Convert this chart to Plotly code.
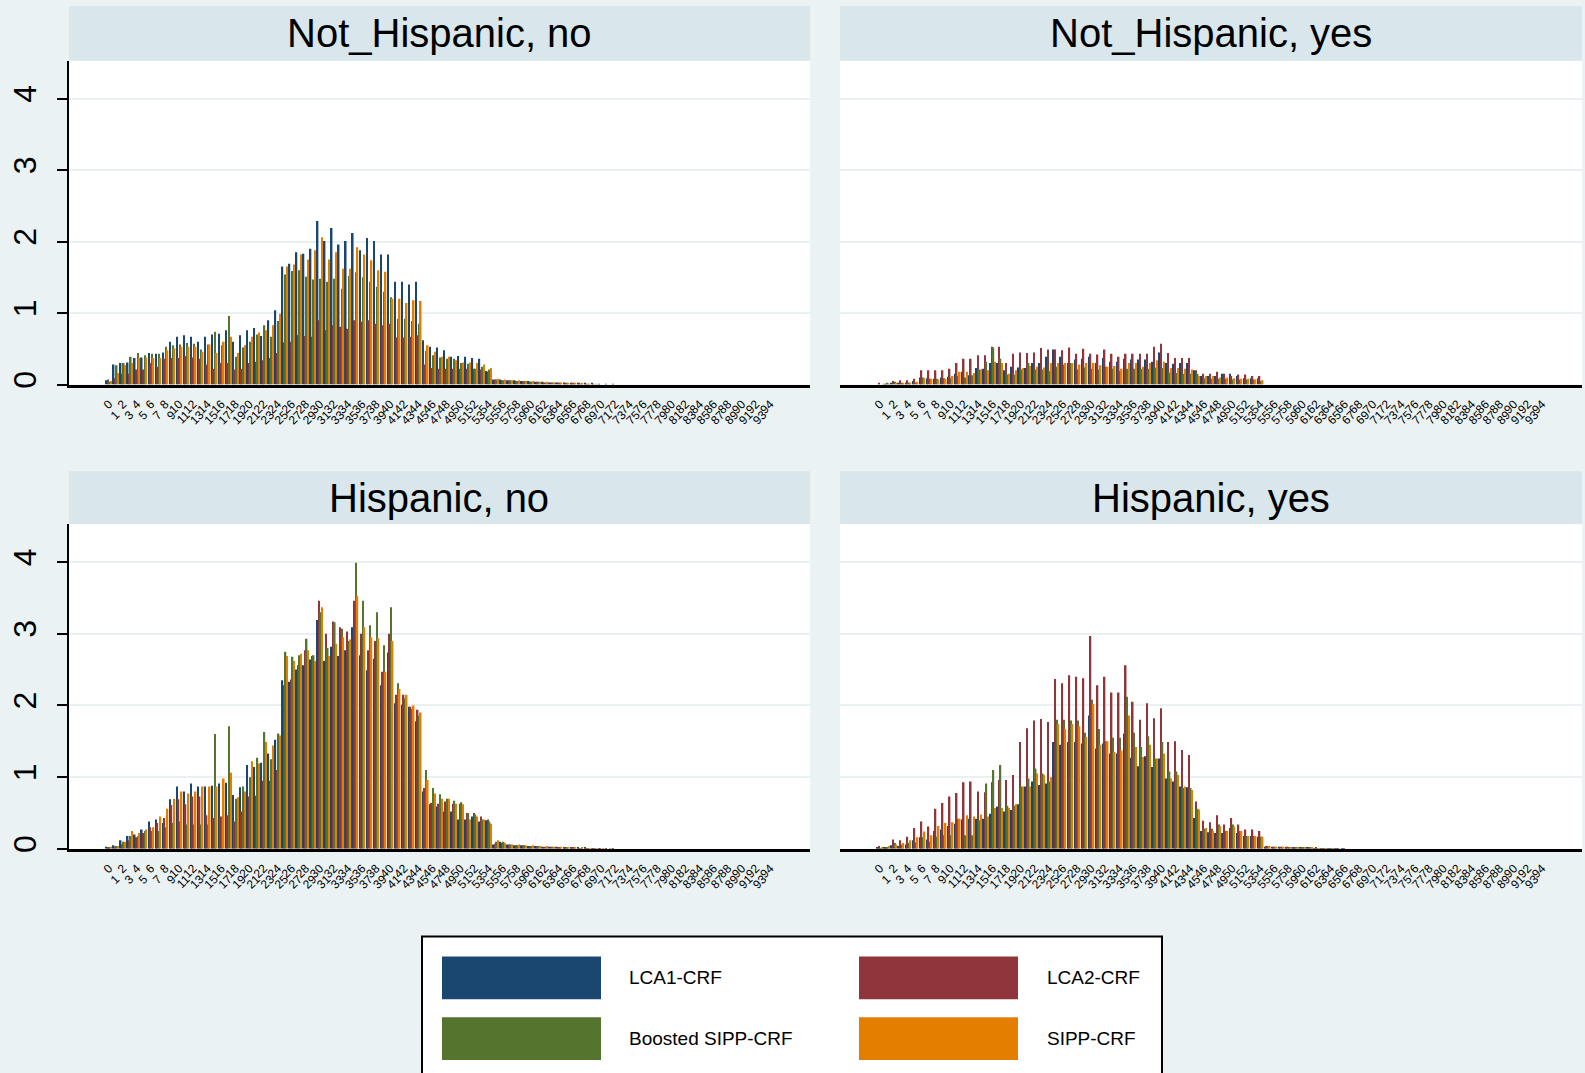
import plotly.graph_objects as go

# ---------------- data ----------------
AGES = list(range(95))
SERIES = ["LCA1-CRF", "LCA2-CRF", "Boosted SIPP-CRF", "SIPP-CRF"]
COLORS = ["#1a476f", "#90353b", "#55752f", "#e37e00"]
PANELS = ["Not_Hispanic, no", "Not_Hispanic, yes", "Hispanic, no", "Hispanic, yes"]
Y_TICKS = [0, 1, 2, 3, 4]

# Not_Hispanic, no
nh_no_lca1 = [0.06, 0.28, 0.30, 0.31, 0.37, 0.38, 0.44, 0.43, 0.45, 0.60, 0.67, 0.69, 0.67, 0.60, 0.67, 0.70,
              0.71, 0.76, 0.60, 0.69, 0.76, 0.79, 0.68, 0.90, 1.04, 1.65, 1.69, 1.85, 1.83, 1.90, 2.29, 2.01,
              2.19, 1.96, 2.01, 2.12, 1.88, 2.05, 2.01, 1.82, 1.82, 1.44, 1.44, 1.40, 1.44, 0.62, 0.53, 0.52,
              0.48, 0.39, 0.40, 0.39, 0.37, 0.36, 0.19, 0.07, 0.07, 0.06, 0.06, 0.05, 0.05, 0.04, 0.04, 0.03,
              0.03, 0.03, 0.02, 0.02, 0.02, 0.02, 0.01, 0.01, 0.01]
nh_no_lca2 = [0.07, 0.09, 0.15, 0.15, 0.21, 0.21, 0.30, 0.25, 0.36, 0.37, 0.37, 0.40, 0.38, 0.36, 0.28, 0.22,
              0.30, 0.30, 0.21, 0.22, 0.30, 0.32, 0.34, 0.37, 0.44, 0.59, 0.60, 0.69, 0.68, 0.67, 0.90, 0.76,
              0.83, 0.81, 0.78, 0.90, 0.88, 0.90, 0.85, 0.83, 0.85, 0.66, 0.66, 0.67, 0.69, 0.28, 0.23, 0.22,
              0.22, 0.22, 0.22, 0.22, 0.22, 0.21, 0.18, 0.07, 0.06, 0.06, 0.05, 0.05, 0.04, 0.04, 0.03, 0.03,
              0.03, 0.02, 0.02, 0.02, 0.01, 0.01]
nh_no_boost = [0.04, 0.27, 0.30, 0.39, 0.44, 0.41, 0.43, 0.43, 0.53, 0.55, 0.56, 0.58, 0.57, 0.49, 0.56, 0.74,
               0.55, 0.96, 0.39, 0.52, 0.60, 0.70, 0.83, 0.67, 0.89, 1.54, 1.59, 1.60, 1.51, 1.47, 1.48, 1.44,
               1.48, 1.34, 1.52, 1.57, 1.50, 1.44, 1.37, 1.30, 1.22, 0.92, 0.92, 0.89, 0.85, 0.47, 0.41, 0.38,
               0.36, 0.36, 0.30, 0.29, 0.22, 0.25, 0.21, 0.07, 0.06, 0.06, 0.05, 0.05, 0.04, 0.04, 0.03, 0.03,
               0.02, 0.02, 0.02, 0.01, 0.01]
nh_no_sipp = [0.05, 0.16, 0.27, 0.30, 0.37, 0.38, 0.37, 0.37, 0.48, 0.51, 0.53, 0.53, 0.53, 0.46, 0.56, 0.44,
              0.60, 0.67, 0.44, 0.55, 0.67, 0.73, 0.76, 0.83, 0.99, 1.65, 1.68, 1.82, 1.75, 1.88, 2.06, 1.75,
              1.85, 1.62, 1.62, 1.92, 1.82, 1.74, 1.60, 1.58, 1.20, 1.20, 1.14, 1.18, 1.17, 0.55, 0.46, 0.39,
              0.39, 0.34, 0.31, 0.31, 0.30, 0.28, 0.23, 0.08, 0.07, 0.06, 0.06, 0.05, 0.05, 0.04, 0.04, 0.03,
              0.03, 0.02, 0.02, 0.02, 0.01, 0.01]

# Not_Hispanic, yes
nh_yes_lca1 = [0.00, 0.01, 0.02, 0.02, 0.02, 0.05, 0.10, 0.09, 0.08, 0.10, 0.11, 0.15, 0.18, 0.13, 0.23, 0.22,
               0.30, 0.30, 0.20, 0.25, 0.24, 0.23, 0.30, 0.30, 0.39, 0.49, 0.39, 0.30, 0.35, 0.36, 0.39, 0.30,
               0.37, 0.32, 0.32, 0.36, 0.35, 0.35, 0.35, 0.32, 0.45, 0.30, 0.29, 0.30, 0.30, 0.20, 0.12, 0.12,
               0.12, 0.15, 0.15, 0.12, 0.09, 0.09, 0.09]
nh_yes_lca2 = [0.02, 0.01, 0.05, 0.06, 0.06, 0.08, 0.20, 0.20, 0.20, 0.20, 0.22, 0.30, 0.36, 0.36, 0.41, 0.41,
               0.53, 0.53, 0.30, 0.43, 0.45, 0.44, 0.45, 0.51, 0.49, 0.49, 0.48, 0.52, 0.43, 0.50, 0.43, 0.42,
               0.49, 0.43, 0.39, 0.43, 0.43, 0.43, 0.43, 0.53, 0.57, 0.44, 0.37, 0.37, 0.37, 0.20, 0.15, 0.15,
               0.18, 0.15, 0.12, 0.14, 0.14, 0.12, 0.12]
nh_yes_boost = [0.00, 0.02, 0.04, 0.02, 0.02, 0.03, 0.10, 0.08, 0.08, 0.09, 0.09, 0.12, 0.10, 0.13, 0.21, 0.32,
                0.52, 0.36, 0.14, 0.14, 0.21, 0.30, 0.21, 0.21, 0.19, 0.25, 0.28, 0.30, 0.21, 0.24, 0.22, 0.21,
                0.25, 0.22, 0.19, 0.22, 0.22, 0.22, 0.22, 0.24, 0.23, 0.17, 0.16, 0.15, 0.15, 0.15, 0.09, 0.08,
                0.08, 0.08, 0.07, 0.07, 0.07, 0.07, 0.05]
nh_yes_sipp = [0.00, 0.01, 0.02, 0.02, 0.03, 0.04, 0.09, 0.08, 0.07, 0.08, 0.12, 0.18, 0.18, 0.16, 0.21, 0.20,
               0.32, 0.30, 0.15, 0.20, 0.23, 0.26, 0.25, 0.24, 0.30, 0.30, 0.30, 0.30, 0.28, 0.30, 0.30, 0.27,
               0.25, 0.26, 0.22, 0.30, 0.30, 0.25, 0.30, 0.34, 0.32, 0.23, 0.23, 0.22, 0.21, 0.12, 0.12, 0.12,
               0.10, 0.10, 0.09, 0.08, 0.08, 0.07, 0.06]

# Hispanic, no
h_no_lca1 = [0.03, 0.05, 0.12, 0.18, 0.20, 0.27, 0.38, 0.41, 0.36, 0.69, 0.87, 0.80, 0.91, 0.87, 0.87, 0.88,
             0.91, 0.92, 0.75, 0.86, 1.17, 1.14, 1.20, 1.33, 1.52, 2.35, 2.33, 2.50, 2.56, 2.64, 3.19, 2.62,
             2.82, 2.69, 2.77, 3.09, 2.70, 2.49, 2.65, 2.28, 2.74, 2.03, 2.01, 1.98, 1.78, 0.80, 0.62, 0.59,
             0.52, 0.52, 0.41, 0.41, 0.45, 0.38, 0.40, 0.06, 0.10, 0.06, 0.05, 0.05, 0.04, 0.04, 0.03, 0.03,
             0.03, 0.02, 0.02, 0.02, 0.02, 0.01, 0.01, 0.01, 0.01]
h_no_lca2 = [0.02, 0.03, 0.06, 0.12, 0.16, 0.22, 0.30, 0.36, 0.43, 0.61, 0.69, 0.62, 0.73, 0.73, 0.47, 0.43,
             0.45, 0.47, 0.38, 0.52, 0.73, 0.74, 0.95, 0.95, 1.10, 2.28, 2.36, 2.56, 2.77, 2.69, 3.46, 3.00,
             3.17, 3.09, 3.03, 3.46, 3.00, 2.77, 2.90, 2.47, 3.00, 2.15, 2.15, 1.98, 1.94, 0.85, 0.64, 0.63,
             0.66, 0.63, 0.63, 0.50, 0.50, 0.45, 0.41, 0.07, 0.08, 0.06, 0.05, 0.05, 0.04, 0.04, 0.03, 0.03,
             0.02, 0.02, 0.02, 0.01, 0.01, 0.01, 0.01]
h_no_boost = [0.02, 0.04, 0.10, 0.18, 0.18, 0.25, 0.25, 0.25, 0.30, 0.36, 0.38, 0.34, 0.34, 0.34, 0.34, 1.60,
              0.45, 1.71, 0.70, 0.87, 1.00, 1.27, 1.63, 1.25, 1.61, 2.75, 2.68, 2.70, 2.93, 2.70, 3.30, 2.80,
              3.16, 3.07, 2.90, 3.99, 3.46, 3.12, 3.30, 2.84, 3.37, 2.31, 2.10, 1.95, 1.86, 1.10, 0.85, 0.76,
              0.70, 0.67, 0.65, 0.50, 0.48, 0.41, 0.38, 0.10, 0.10, 0.06, 0.05, 0.05, 0.04, 0.04, 0.03, 0.03,
              0.02, 0.02, 0.02, 0.01, 0.01, 0.01]
h_no_sipp = [0.03, 0.04, 0.10, 0.25, 0.22, 0.27, 0.30, 0.45, 0.56, 0.70, 0.80, 0.77, 0.80, 0.87, 0.87, 0.87,
             0.98, 1.06, 0.72, 0.80, 1.22, 1.19, 1.49, 1.44, 1.58, 2.69, 2.62, 2.72, 2.77, 2.62, 3.37, 2.69,
             2.86, 2.95, 2.92, 3.53, 3.09, 2.95, 2.94, 2.47, 2.90, 2.23, 2.15, 2.00, 1.90, 0.96, 0.77, 0.70,
             0.70, 0.63, 0.62, 0.41, 0.45, 0.41, 0.35, 0.12, 0.08, 0.06, 0.06, 0.05, 0.05, 0.04, 0.04, 0.03,
             0.03, 0.02, 0.02, 0.02, 0.01, 0.01, 0.01, 0.01]

# Hispanic, yes
h_yes_lca1 = [0.02, 0.02, 0.05, 0.04, 0.06, 0.12, 0.16, 0.13, 0.25, 0.27, 0.32, 0.35, 0.41, 0.42, 0.42, 0.42,
              0.49, 0.59, 0.52, 0.54, 0.62, 0.87, 0.94, 0.89, 0.91, 1.49, 1.45, 1.49, 1.49, 1.47, 1.86, 1.40,
              1.47, 1.33, 1.33, 1.61, 1.27, 1.15, 1.29, 1.14, 1.26, 0.98, 0.94, 0.87, 0.86, 0.43, 0.25, 0.23,
              0.22, 0.22, 0.29, 0.22, 0.18, 0.18, 0.17, 0.03, 0.03, 0.03, 0.02, 0.02, 0.02, 0.02, 0.01, 0.01,
              0.01, 0.01, 0.01]
h_yes_lca2 = [0.04, 0.02, 0.13, 0.12, 0.17, 0.29, 0.38, 0.31, 0.56, 0.64, 0.73, 0.78, 0.93, 0.94, 0.80, 0.79,
              0.93, 0.96, 0.96, 1.03, 1.49, 1.68, 1.79, 1.81, 1.77, 2.37, 2.31, 2.42, 2.40, 2.38, 2.97, 2.28,
              2.40, 2.18, 2.18, 2.56, 2.05, 1.80, 2.03, 1.82, 1.96, 1.49, 1.50, 1.38, 1.31, 0.66, 0.39, 0.37,
              0.47, 0.34, 0.43, 0.34, 0.27, 0.27, 0.25, 0.04, 0.03, 0.03, 0.03, 0.02, 0.02, 0.02, 0.02, 0.01,
              0.01, 0.01, 0.01]
h_yes_boost = [0.01, 0.02, 0.08, 0.06, 0.08, 0.09, 0.16, 0.10, 0.17, 0.19, 0.19, 0.42, 0.19, 0.19, 0.40, 0.91,
               1.10, 1.17, 0.60, 0.60, 0.87, 0.98, 1.12, 1.05, 0.94, 1.80, 1.80, 1.79, 1.79, 1.62, 2.08, 1.67,
               1.50, 1.55, 1.55, 2.12, 1.62, 1.42, 1.57, 1.26, 1.49, 1.08, 1.08, 0.85, 0.85, 0.56, 0.28, 0.28,
               0.34, 0.25, 0.34, 0.25, 0.18, 0.18, 0.17, 0.04, 0.03, 0.03, 0.02, 0.02, 0.02, 0.02, 0.01, 0.01,
               0.01, 0.01]
h_yes_sipp = [0.02, 0.04, 0.06, 0.08, 0.12, 0.16, 0.24, 0.19, 0.32, 0.36, 0.37, 0.42, 0.47, 0.45, 0.48, 0.45,
              0.57, 0.57, 0.57, 0.62, 0.87, 0.87, 1.05, 1.03, 1.00, 1.74, 1.67, 1.74, 1.71, 1.56, 2.02, 1.45,
              1.50, 1.35, 1.37, 1.86, 1.42, 1.28, 1.45, 1.26, 1.33, 0.98, 1.03, 0.87, 0.82, 0.55, 0.29, 0.25,
              0.32, 0.25, 0.31, 0.25, 0.18, 0.18, 0.17, 0.04, 0.03, 0.03, 0.02, 0.02, 0.02, 0.02, 0.01, 0.01,
              0.01]

PANEL_DATA = [
    [nh_no_lca1, nh_no_lca2, nh_no_boost, nh_no_sipp],
    [nh_yes_lca1, nh_yes_lca2, nh_yes_boost, nh_yes_sipp],
    [h_no_lca1, h_no_lca2, h_no_boost, h_no_sipp],
    [h_yes_lca1, h_yes_lca2, h_yes_boost, h_yes_sipp],
]

# ---------------- style / layout ----------------
W, H = 1585, 1073
BG = "#EAF2F3"
HEADER = "#D9E6EB"
GRID = "#E8F0F2"
FONT = "Liberation Sans"
XR = [-5.67, 99.67]
YR = [0, 4.53]

COLS_X = [(69, 810), (840, 1582)]
ROWS_Y = [(61, 386), (526, 852)]
HEAD_Y = [(6, 61), (473, 526)]


def px(x):
    return x / W


def py(y):
    return 1 - y / H


def ax_id(letter, n):
    return letter if n == 1 else f"{letter}{n}"


fig = go.Figure()

for p, series_list in enumerate(PANEL_DATA):
    for s, vals in enumerate(series_list):
        fig.add_trace(go.Bar(
            x=AGES[:len(vals)], y=vals, name=SERIES[s],
            marker=dict(color=COLORS[s], line=dict(width=0)),
            xaxis=ax_id("x", p + 1), yaxis=ax_id("y", p + 1),
            showlegend=False,
        ))
    # invisible helper trace so the overlay axis (odd age labels) gets drawn
    first = series_list[0]
    fig.add_trace(go.Scatter(
        x=AGES[:len(first)], y=first, mode="markers",
        marker=dict(opacity=0, size=1), hoverinfo="skip",
        xaxis=f"x{p + 5}", yaxis=ax_id("y", p + 1), showlegend=False,
    ))

layout = {}
shapes = []
annotations = []
for p in range(4):
    col, row = p % 2, p // 2
    x0, x1 = COLS_X[col]
    y0, y1 = ROWS_Y[row]
    n = p + 1
    xk = "xaxis" if n == 1 else f"xaxis{n}"
    yk = "yaxis" if n == 1 else f"yaxis{n}"
    layout[xk] = dict(
        domain=[px(x0), px(x1)], anchor=ax_id("y", n), range=XR,
        tickmode="array", tickvals=AGES[0::2], ticktext=[str(a) for a in AGES[0::2]],
        tickangle=-45, tickfont=dict(family=FONT, size=12, color="#000"),
        ticks="", showline=True, linecolor="#000", linewidth=2.5,
        showgrid=False, zeroline=False, ticklabelstandoff=5,
    )
    layout[f"xaxis{n + 4}"] = dict(
        overlaying=ax_id("x", n), anchor=ax_id("y", n), side="bottom", range=XR,
        tickmode="array", tickvals=AGES[1::2], ticktext=[str(a) for a in AGES[1::2]],
        tickangle=-45, tickfont=dict(family=FONT, size=12, color="#000"),
        ticks="", showline=False, showgrid=False, zeroline=False,
        ticklabelstandoff=20,
    )
    left = col == 0
    layout[yk] = dict(
        domain=[py(y1), py(y0)], anchor=ax_id("x", n), range=YR,
        tickmode="array", tickvals=Y_TICKS, ticktext=[str(t) for t in Y_TICKS],
        showgrid=True, gridcolor=GRID, gridwidth=2, zeroline=False,
        showline=left, linecolor="#000", linewidth=2,
        ticks="outside" if left else "", ticklen=10, tickwidth=2, tickcolor="#000",
        showticklabels=left, tickangle=-90,
        tickfont=dict(family=FONT, size=32, color="#000"),
        ticklabelstandoff=8,
    )
    hy0, hy1 = HEAD_Y[row]
    shapes.append(dict(type="rect", xref="paper", yref="paper",
                       x0=px(x0), x1=px(x1), y0=py(hy1), y1=py(hy0),
                       fillcolor=HEADER, line=dict(width=0), layer="below"))
    annotations.append(dict(text=PANELS[p], xref="paper", yref="paper",
                            x=px((x0 + x1) / 2), y=py((hy0 + hy1) / 2),
                            xanchor="center", yanchor="middle", showarrow=False,
                            font=dict(family=FONT, size=40, color="#000")))

# legend (drawn manually, Stata style)
shapes.append(dict(type="rect", xref="paper", yref="paper",
                   x0=px(422), x1=px(1162), y0=py(1090), y1=py(940),
                   fillcolor="#FFFFFF", line=dict(color="#000", width=2)))
LEG_COL_X = [442, 859]
LEG_ROW_Y = [960, 1021]
LEG_TEXT_X = [627, 1045]
for i, name in enumerate(SERIES):
    r, c = i // 2, i % 2
    sx, sy = LEG_COL_X[c], LEG_ROW_Y[r]
    shapes.append(dict(type="rect", xref="paper", yref="paper",
                       x0=px(sx), x1=px(sx + 159), y0=py(sy + 43), y1=py(sy),
                       fillcolor=COLORS[i], line=dict(width=0)))
    annotations.append(dict(text=name, xref="paper", yref="paper",
                            x=px(LEG_TEXT_X[c]), y=py(sy + 21.5),
                            xanchor="left", yanchor="middle", showarrow=False,
                            font=dict(family=FONT, size=19, color="#000")))

fig.update_layout(
    **layout,
    width=W, height=H, margin=dict(l=0, r=0, t=0, b=0),
    paper_bgcolor=BG, plot_bgcolor="#FFFFFF",
    barmode="group", bargap=0.12, bargroupgap=0,
    shapes=shapes, annotations=annotations,
    font=dict(family=FONT, color="#000"),
    showlegend=False,
)

fig.write_html("out.html")
